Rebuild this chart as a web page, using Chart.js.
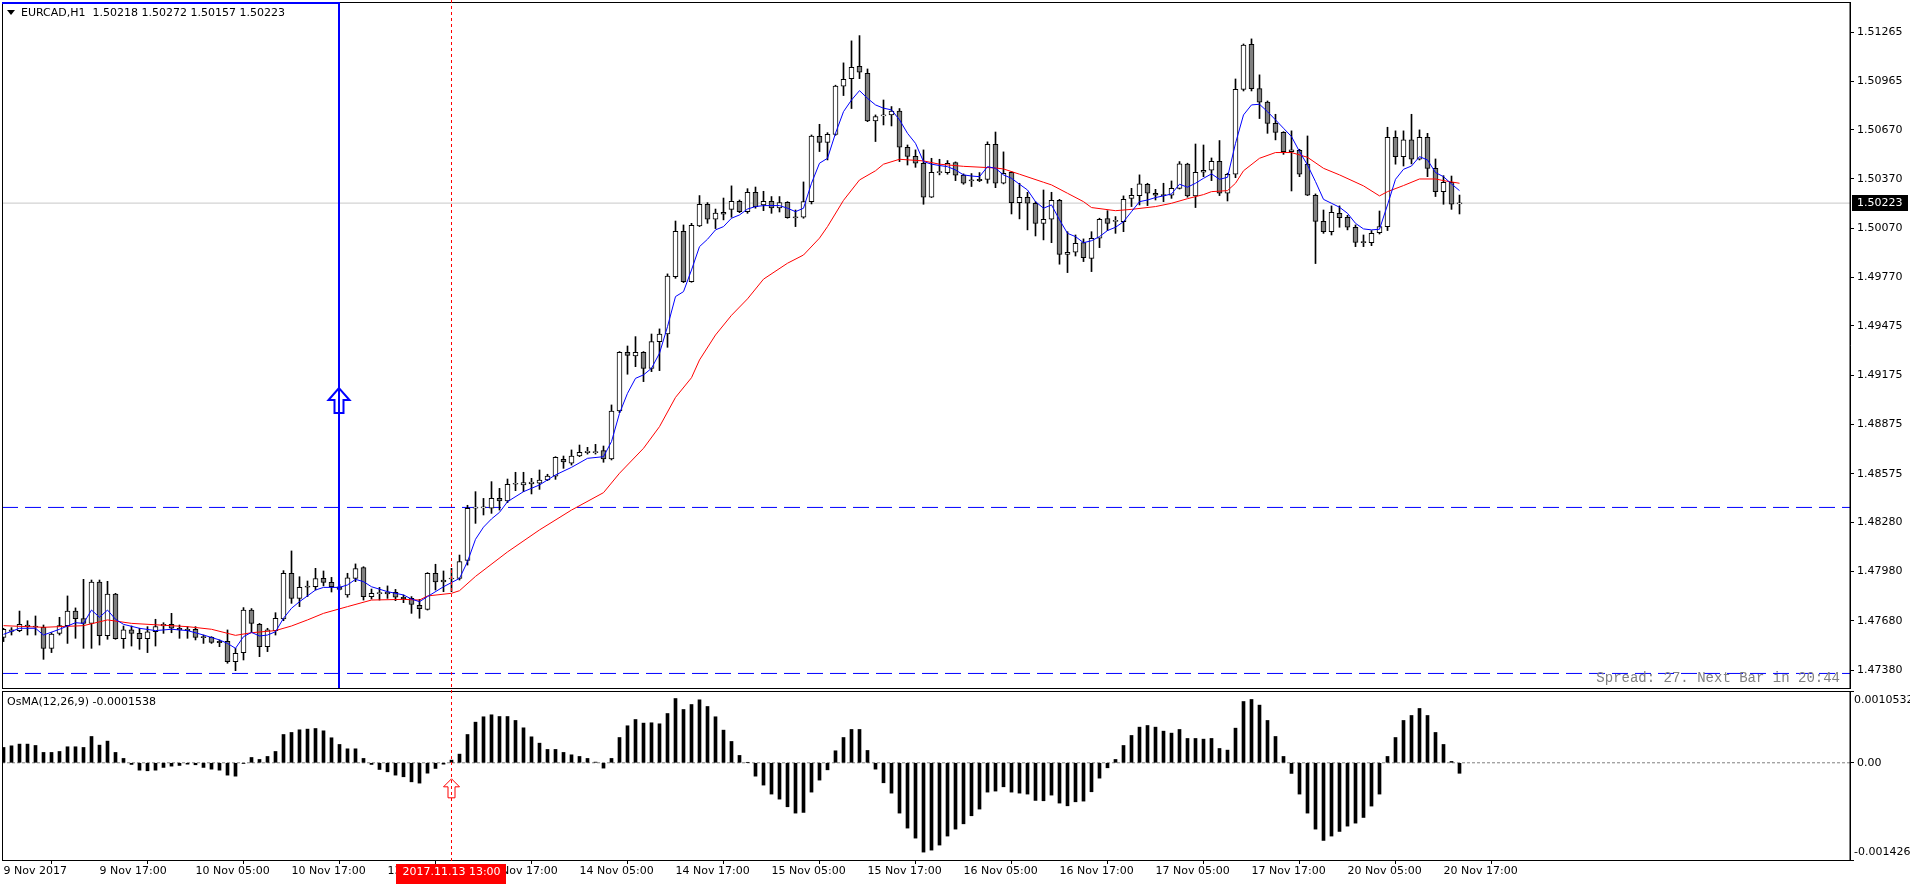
<!DOCTYPE html>
<html>
<head>
<meta charset="utf-8">
<script src="https://cdn.jsdelivr.net/npm/chart.js@4/dist/chart.umd.min.js"></script>
<style>
  html, body { margin: 0; padding: 0; background: #fff; overflow: hidden; }
  canvas { position: absolute; left: 0; }
  #main { top: 0; }
  #osma { top: 690px; }
</style>
</head>
<body>
<canvas id="main" width="1910" height="690"></canvas>
<canvas id="osma" width="1910" height="194"></canvas>
<script>
// EURCAD H1, one entry per bar: 9 Nov 05:00 .. 20 Nov 19:00
const opens = [
  1.47579,1.47624,1.47620,1.47654,1.47646,1.47640,1.47512,1.47603,1.47650,1.47739,
  1.47693,1.47664,1.47916,1.47589,1.47843,1.47571,1.47624,1.47603,1.47571,1.47613,
  1.47648,1.47658,1.47634,1.47628,1.47628,1.47581,1.47579,1.47555,1.47555,1.47431,
  1.47486,1.47745,1.47658,1.47522,1.47620,1.47691,1.47969,1.47816,1.47890,1.47887,
  1.47938,1.47914,1.47887,1.47837,1.47938,1.48003,1.47827,1.47845,1.47843,1.47853,
  1.47823,1.47816,1.47774,1.47749,1.47969,1.47916,1.47934,1.47938,1.48048,1.48366,
  1.48367,1.48365,1.48425,1.48409,1.48511,1.48507,1.48513,1.48517,1.48537,1.48561,
  1.48663,1.48639,1.48683,1.48704,1.48704,1.48716,1.48665,1.48957,1.49315,1.49292,
  1.49315,1.49217,1.49380,1.49426,1.49775,1.50051,1.49745,1.50084,1.50216,1.50125,
  1.50167,1.50185,1.50234,1.50171,1.50289,1.50212,1.50234,1.50194,1.50228,1.50137,
  1.50137,1.50232,1.50630,1.50593,1.50642,1.50935,1.50981,1.51056,1.51014,1.50723,
  1.50754,1.50760,1.50784,1.50563,1.50508,1.50466,1.50259,1.50409,1.50409,1.50470,
  1.50393,1.50362,1.50368,1.50368,1.50581,1.50344,1.50411,1.50226,1.50259,1.50222,
  1.50100,1.50125,1.50240,1.49911,1.49924,1.49982,1.49887,1.50009,1.50129,1.50112,
  1.50110,1.50252,1.50269,1.50338,1.50283,1.50273,1.50271,1.50313,1.50460,1.50267,
  1.50411,1.50423,1.50478,1.50283,1.50399,1.50916,1.51190,1.50920,1.50839,1.50709,
  1.50654,1.50537,1.50545,1.50460,1.50271,1.50112,1.50049,1.50161,1.50137,1.50076,
  1.49986,1.49982,1.50043,1.50080,1.50624,1.50506,1.50608,1.50490,1.50624,1.50435,
  1.50293,1.50350,1.50218
];
const highs = [
  1.47634,1.47638,1.47739,1.47680,1.47709,1.47654,1.47607,1.47701,1.47831,1.47758,
  1.47932,1.47928,1.47928,1.47920,1.47847,1.47648,1.47648,1.47634,1.47644,1.47689,
  1.47668,1.47725,1.47654,1.47644,1.47644,1.47593,1.47583,1.47563,1.47624,1.47512,
  1.47760,1.47754,1.47664,1.47634,1.47729,1.47985,1.48105,1.47948,1.47922,1.47999,
  1.47983,1.47944,1.47900,1.47969,1.48026,1.48009,1.47873,1.47883,1.47892,1.47871,
  1.47837,1.47827,1.47810,1.47973,1.48024,1.47983,1.47999,1.48080,1.48383,1.48466,
  1.48425,1.48527,1.48486,1.48543,1.48584,1.48584,1.48547,1.48598,1.48572,1.48679,
  1.48683,1.48720,1.48750,1.48736,1.48754,1.48744,1.48994,1.49319,1.49353,1.49410,
  1.49319,1.49426,1.49457,1.49792,1.50114,1.50090,1.50100,1.50269,1.50226,1.50187,
  1.50254,1.50328,1.50242,1.50311,1.50321,1.50295,1.50263,1.50263,1.50232,1.50181,
  1.50352,1.50638,1.50703,1.50652,1.50941,1.51077,1.51211,1.51243,1.51040,1.50760,
  1.50851,1.50811,1.50799,1.50577,1.50547,1.50547,1.50496,1.50490,1.50482,1.50474,
  1.50401,1.50403,1.50409,1.50596,1.50656,1.50535,1.50415,1.50344,1.50289,1.50232,
  1.50303,1.50289,1.50246,1.50049,1.50029,1.50005,1.50049,1.50131,1.50177,1.50141,
  1.50267,1.50313,1.50395,1.50344,1.50307,1.50344,1.50358,1.50476,1.50466,1.50583,
  1.50577,1.50498,1.50604,1.50405,1.50979,1.51192,1.51223,1.51004,1.50845,1.50764,
  1.50658,1.50663,1.50551,1.50632,1.50279,1.50181,1.50206,1.50206,1.50149,1.50090,
  1.50029,1.50056,1.50175,1.50685,1.50663,1.50663,1.50764,1.50669,1.50648,1.50492,
  1.50390,1.50388,1.50272
];
const lows = [
  1.47553,1.47593,1.47613,1.47593,1.47593,1.47445,1.47486,1.47593,1.47542,1.47573,
  1.47512,1.47512,1.47532,1.47567,1.47567,1.47512,1.47526,1.47506,1.47486,1.47526,
  1.47603,1.47607,1.47573,1.47573,1.47563,1.47542,1.47542,1.47522,1.47421,1.47376,
  1.47441,1.47609,1.47461,1.47492,1.47593,1.47680,1.47786,1.47766,1.47827,1.47867,
  1.47892,1.47855,1.47867,1.47823,1.47918,1.47806,1.47812,1.47806,1.47816,1.47802,
  1.47790,1.47725,1.47695,1.47745,1.47867,1.47857,1.47857,1.47928,1.48019,1.48273,
  1.48324,1.48334,1.48354,1.48399,1.48472,1.48466,1.48452,1.48480,1.48533,1.48541,
  1.48608,1.48628,1.48679,1.48695,1.48695,1.48645,1.48659,1.48947,1.49181,1.49227,
  1.49136,1.49197,1.49203,1.49345,1.49765,1.49739,1.49741,1.50080,1.50100,1.50068,
  1.50121,1.50137,1.50165,1.50161,1.50192,1.50177,1.50161,1.50169,1.50131,1.50080,
  1.50131,1.50218,1.50537,1.50486,1.50636,1.50878,1.50799,1.50981,1.50719,1.50598,
  1.50699,1.50693,1.50476,1.50455,1.50441,1.50216,1.50257,1.50395,1.50399,1.50360,
  1.50338,1.50324,1.50354,1.50344,1.50317,1.50340,1.50157,1.50127,1.50060,1.50023,
  1.49999,1.49982,1.49851,1.49800,1.49901,1.49867,1.49806,1.49952,1.50056,1.50039,
  1.50049,1.50202,1.50212,1.50208,1.50242,1.50232,1.50252,1.50309,1.50259,1.50196,
  1.50384,1.50360,1.50269,1.50236,1.50378,1.50906,1.50906,1.50738,1.50648,1.50608,
  1.50520,1.50297,1.50384,1.50269,1.49855,1.50039,1.50029,1.50076,1.50060,1.49958,
  1.49958,1.49964,1.50035,1.50056,1.50460,1.50449,1.50462,1.50486,1.50384,1.50263,
  1.50216,1.50185,1.50157
];
const closes = [
  1.47628,1.47615,1.47658,1.47644,1.47642,1.47512,1.47599,1.47650,1.47739,1.47693,
  1.47664,1.47916,1.47589,1.47843,1.47571,1.47624,1.47603,1.47571,1.47613,1.47644,
  1.47658,1.47634,1.47624,1.47620,1.47579,1.47577,1.47548,1.47546,1.47431,1.47482,
  1.47745,1.47664,1.47522,1.47624,1.47695,1.47969,1.47816,1.47883,1.47885,1.47936,
  1.47914,1.47887,1.47871,1.47942,1.47997,1.47827,1.47847,1.47849,1.47855,1.47823,
  1.47814,1.47780,1.47753,1.47969,1.47916,1.47928,1.47938,1.48040,1.48365,1.48370,
  1.48371,1.48425,1.48409,1.48511,1.48515,1.48521,1.48525,1.48537,1.48561,1.48675,
  1.48647,1.48683,1.48706,1.48712,1.48708,1.48665,1.48957,1.49315,1.49296,1.49315,
  1.49217,1.49380,1.49426,1.49779,1.50051,1.49745,1.50088,1.50216,1.50125,1.50163,
  1.50155,1.50234,1.50171,1.50289,1.50202,1.50234,1.50194,1.50226,1.50135,1.50133,
  1.50232,1.50632,1.50593,1.50642,1.50935,1.50977,1.51050,1.51020,1.50723,1.50750,
  1.50758,1.50784,1.50563,1.50508,1.50466,1.50259,1.50411,1.50413,1.50466,1.50393,
  1.50344,1.50358,1.50360,1.50581,1.50344,1.50405,1.50226,1.50259,1.50222,1.50100,
  1.50125,1.50240,1.49911,1.49924,1.49978,1.49891,1.50009,1.50125,1.50100,1.50116,
  1.50246,1.50271,1.50340,1.50283,1.50271,1.50269,1.50313,1.50462,1.50267,1.50411,
  1.50423,1.50478,1.50283,1.50399,1.50916,1.51186,1.50920,1.50837,1.50709,1.50654,
  1.50537,1.50547,1.50399,1.50271,1.50112,1.50049,1.50167,1.50135,1.50076,1.49984,
  1.49982,1.50039,1.50080,1.50624,1.50506,1.50608,1.50490,1.50624,1.50435,1.50293,
  1.50350,1.50216,1.50223
];

// OsMA(12,26,9) histogram, same bars
const osma = [
  0.000225,0.000249,0.000274,0.000274,0.000254,0.000152,0.000152,0.000166,0.000235,0.000235,
  0.000225,0.000386,0.000259,0.000318,0.000152,0.000064,-0.000024,-0.000108,-0.000117,-0.000108,
  -0.000068,-0.000049,-0.000039,-0.000020,-0.000029,-0.000068,-0.000093,-0.000108,-0.000181,-0.000196,
  -0.000010,0.000078,0.000049,0.000093,0.000166,0.000415,0.000445,0.000484,0.000494,0.000503,
  0.000469,0.000367,0.000269,0.000205,0.000205,0.000064,-0.000024,-0.000098,-0.000132,-0.000181,
  -0.000205,-0.000279,-0.000298,-0.000152,-0.000083,-0.000020,0.000039,0.000127,0.000415,0.000596,
  0.000675,0.000704,0.000679,0.000679,0.000621,0.000513,0.000381,0.000288,0.000196,0.000196,
  0.000152,0.000117,0.000093,0.000064,0.000010,-0.000078,0.000064,0.000371,0.000543,0.000635,
  0.000582,0.000587,0.000572,0.000723,0.000943,0.000782,0.000855,0.000924,0.000826,0.000675,
  0.000479,0.000313,0.000108,0.000005,-0.000196,-0.000327,-0.000459,-0.000533,-0.000645,-0.000738,
  -0.000728,-0.000430,-0.000254,-0.000103,0.000176,0.000371,0.000489,0.000489,0.000181,-0.000093,
  -0.000293,-0.000445,-0.000738,-0.000958,-0.001105,-0.001310,-0.001281,-0.001207,-0.001075,-0.000973,
  -0.000895,-0.000777,-0.000679,-0.000430,-0.000415,-0.000352,-0.000430,-0.000445,-0.000459,-0.000552,
  -0.000557,-0.000474,-0.000591,-0.000631,-0.000572,-0.000562,-0.000425,-0.000225,-0.000073,0.000049,
  0.000254,0.000401,0.000523,0.000547,0.000523,0.000464,0.000435,0.000489,0.000357,0.000357,
  0.000347,0.000357,0.000210,0.000186,0.000508,0.000899,0.000929,0.000846,0.000621,0.000386,
  0.000093,-0.000156,-0.000459,-0.000738,-0.000973,-0.001139,-0.001075,-0.001007,-0.000929,-0.000885,
  -0.000802,-0.000635,-0.000459,0.000093,0.000371,0.000621,0.000694,0.000797,0.000694,0.000445,
  0.000269,0.000020,-0.0001538
];

// moving averages as [bar, price]
const fastMA = [
  [0,1.47597],[2,1.47634],[4,1.47634],[5,1.47593],[7,1.47628],[9,1.47668],[10,1.47664],[11,1.47745],
  [12,1.47701],[13,1.47745],[14,1.47689],[15,1.47658],[17,1.47634],[19,1.47620],[21,1.47628],[23,1.47620],
  [25,1.47593],[27,1.47563],[28,1.47542],[29,1.47512],[30,1.47583],[31,1.47609],[32,1.47587],[33,1.47593],
  [34,1.47613],[35,1.47695],[36,1.47756],[37,1.47796],[39,1.47867],[40,1.47883],[42,1.47883],[43,1.47898],
  [44,1.47932],[45,1.47918],[46,1.47887],[48,1.47857],[50,1.47837],[51,1.47812],[52,1.47796],[53,1.47827],
  [55,1.47887],[57,1.47938],[58,1.48040],[59,1.48176],[60,1.48250],[61,1.48300],[62,1.48340],[63,1.48405],
  [65,1.48466],[67,1.48507],[69,1.48568],[71,1.48614],[73,1.48669],[75,1.48679],[76,1.48771],[77,1.48943],
  [78,1.49065],[79,1.49156],[80,1.49177],[81,1.49217],[82,1.49309],[83,1.49471],[84,1.49654],[85,1.49684],
  [86,1.49816],[87,1.49958],[88,1.50003],[89,1.50060],[90,1.50080],[91,1.50131],[92,1.50151],[93,1.50187],
  [94,1.50202],[95,1.50208],[97,1.50208],[98,1.50192],[99,1.50171],[100,1.50192],[101,1.50344],[102,1.50466],
  [103,1.50496],[104,1.50648],[105,1.50780],[106,1.50851],[107,1.50908],[108,1.50861],[109,1.50821],[110,1.50801],
  [111,1.50791],[112,1.50730],[113,1.50648],[114,1.50587],[115,1.50476],[116,1.50460],[117,1.50452],[118,1.50445],
  [119,1.50425],[120,1.50395],[121,1.50388],[122,1.50384],[123,1.50445],[124,1.50435],[125,1.50395],[126,1.50374],
  [127,1.50338],[128,1.50303],[129,1.50232],[130,1.50192],[131,1.50212],[132,1.50121],[133,1.50039],[134,1.50019],
  [135,1.49982],[136,1.49994],[137,1.50019],[138,1.50056],[139,1.50076],[140,1.50110],[141,1.50171],[142,1.50232],
  [143,1.50242],[144,1.50257],[145,1.50267],[146,1.50279],[147,1.50338],[148,1.50320],[149,1.50344],[150,1.50374],
  [151,1.50401],[152,1.50368],[153,1.50380],[154,1.50587],[155,1.50760],[156,1.50821],[157,1.50825],[158,1.50780],
  [159,1.50730],[160,1.50679],[161,1.50628],[162,1.50537],[163,1.50455],[164,1.50354],[165,1.50246],[166,1.50222],
  [167,1.50198],[168,1.50161],[169,1.50100],[170,1.50066],[171,1.50060],[172,1.50064],[173,1.50212],[174,1.50368],
  [175,1.50429],[176,1.50449],[177,1.50506],[178,1.50486],[179,1.50409],[180,1.50384],[181,1.50340],[182,1.50299]
];
const slowMA = [
  [0,1.47650],[5,1.47640],[10,1.47650],[13,1.47685],[16,1.47664],[23,1.47644],[26,1.47628],[29,1.47591],
  [31,1.47607],[34,1.47620],[36,1.47648],[38,1.47685],[40,1.47725],[43,1.47766],[46,1.47806],[50,1.47810],
  [52,1.47806],[53,1.47831],[56,1.47847],[57,1.47863],[59,1.47950],[63,1.48099],[67,1.48233],[71,1.48354],
  [75,1.48460],[77,1.48578],[80,1.48730],[82,1.48862],[84,1.49040],[86,1.49160],[87,1.49268],[89,1.49420],
  [91,1.49540],[93,1.49640],[95,1.49760],[98,1.49857],[100,1.49907],[102,1.50010],[103,1.50080],[105,1.50240],
  [107,1.50364],[109,1.50420],[110,1.50460],[112,1.50490],[115,1.50480],[117,1.50460],[120,1.50447],[124,1.50437],
  [125,1.50431],[127,1.50399],[130,1.50350],[131,1.50334],[133,1.50283],[135,1.50232],[136,1.50196],[139,1.50177],
  [141,1.50185],[144,1.50202],[146,1.50222],[148,1.50250],[150,1.50275],[151,1.50293],[153,1.50299],[154,1.50344],
  [155,1.50420],[157,1.50496],[159,1.50531],[161,1.50531],[163,1.50502],[165,1.50435],[167,1.50395],[170,1.50328],
  [172,1.50267],[173,1.50293],[175,1.50330],[177,1.50370],[179,1.50370],[180,1.50360],[182,1.50344]
];

const priceTicks = [1.51265,1.50965,1.50670,1.50370,1.50070,1.49770,1.49475,1.49175,
                    1.48875,1.48575,1.48280,1.47980,1.47680,1.47380];
const timeTickBars = [0,12,24,36,48,60,72,84,96,108,120,132,144,156,168,180];
const timeTickLabels = ['9 Nov 2017','9 Nov 17:00','10 Nov 05:00','10 Nov 17:00','13 Nov 05:00',
  '13 Nov 17:00','14 Nov 05:00','14 Nov 17:00','15 Nov 05:00','15 Nov 17:00','16 Nov 05:00',
  '16 Nov 17:00','17 Nov 05:00','17 Nov 17:00','20 Nov 05:00','20 Nov 17:00'];

const symbolName = 'EURCAD,H1';
const levelLines = [1.48370, 1.47359];
const markerBar = 42, markerPrice = 1.49097;
const signalBar = 56, signalLabel = '2017.11.13 13:00', signalOsma = -0.000235;
const spreadText = 'Spread: 27. Next Bar in 20:44';

const PRICE_MIN = 1.472704, PRICE_MAX = 1.514477;
const OSMA_MIN = -0.001426, OSMA_MAX = 0.0010532;
const X_MIN = -0.1875, X_MAX = 230.8125;   // 8px per bar, chart shifted left
const last = closes.length - 1;

Chart.defaults.font.family = 'DejaVu Sans';
Chart.defaults.font.size = 11;
Chart.defaults.color = '#000';

const hline = v => [{ x: X_MIN, y: v }, { x: X_MAX, y: v }];
const toPoints = arr => arr.map(([x, y]) => ({ x, y }));

function upArrow(ctx, x, tipY, w, headH, shaftW, totalH, color, lw) {
  ctx.beginPath();
  ctx.moveTo(x, tipY);
  ctx.lineTo(x + w / 2, tipY + headH);
  ctx.lineTo(x + shaftW / 2, tipY + headH);
  ctx.lineTo(x + shaftW / 2, tipY + totalH);
  ctx.lineTo(x - shaftW / 2, tipY + totalH);
  ctx.lineTo(x - shaftW / 2, tipY + headH);
  ctx.lineTo(x - w / 2, tipY + headH);
  ctx.closePath();
  ctx.strokeStyle = color;
  ctx.lineWidth = lw;
  ctx.stroke();
}

const mainOverlay = {
  id: 'mainOverlay',
  afterDraw(chart) {
    const { ctx, chartArea: a, scales: { x, y } } = chart;
    ctx.save();
    ctx.strokeStyle = '#000';
    ctx.lineWidth = 1;
    ctx.strokeRect(a.left + 0.5, a.top + 0.5, a.right - a.left - 0.5, a.bottom - a.top);

    // blue vertical line + arrow
    const mx = Math.floor(x.getPixelForValue(markerBar));
    ctx.strokeStyle = '#0000ff';
    ctx.lineWidth = 2;
    ctx.beginPath();
    ctx.moveTo(mx, a.top);
    ctx.lineTo(mx, a.bottom);
    ctx.moveTo(a.left, a.top + 1);
    ctx.lineTo(mx, a.top + 1);
    ctx.stroke();
    upArrow(ctx, mx, y.getPixelForValue(markerPrice), 21, 12, 9, 25, '#0000ff', 2);

    // red dashed signal line
    const sx = x.getPixelForValue(signalBar);
    ctx.strokeStyle = '#ff0000';
    ctx.lineWidth = 1;
    ctx.setLineDash([3, 3]);
    ctx.beginPath();
    ctx.moveTo(sx, 0);
    ctx.lineTo(sx, chart.height);
    ctx.stroke();
    ctx.setLineDash([]);

    // header
    ctx.fillStyle = '#000';
    ctx.beginPath();
    ctx.moveTo(7, 10); ctx.lineTo(15, 10); ctx.lineTo(11, 15);
    ctx.closePath();
    ctx.fill();
    ctx.font = '11px "DejaVu Sans"';
    ctx.textBaseline = 'middle';
    ctx.textAlign = 'left';
    ctx.fillText(symbolName + '  ' + [opens[last], highs[last], lows[last], closes[last]]
      .map(v => v.toFixed(5)).join(' '), 21, 13);

    ctx.font = '14px "Liberation Mono"';
    ctx.fillStyle = '#808080';
    ctx.textAlign = 'right';
    ctx.fillText(spreadText, 1840, 678);

    // current price tag
    const py = Math.round(y.getPixelForValue(closes[last]));
    ctx.fillStyle = '#000';
    ctx.fillRect(a.right + 2, py - 8, 56, 16);
    ctx.fillStyle = '#fff';
    ctx.textAlign = 'left';
    ctx.font = '11px "DejaVu Sans"';
    ctx.fillText(closes[last].toFixed(5), a.right + 7, py);
    ctx.restore();
  }
};

const osmaOverlay = {
  id: 'osmaOverlay',
  afterDraw(chart) {
    const { ctx, chartArea: a, scales: { x, y } } = chart;
    ctx.save();
    ctx.strokeStyle = '#000';
    ctx.lineWidth = 1;
    ctx.strokeRect(a.left + 0.5, a.top + 0.5, a.right - a.left - 0.5, a.bottom - a.top);

    const sx = x.getPixelForValue(signalBar);
    ctx.strokeStyle = '#ff0000';
    ctx.setLineDash([3, 3]);
    ctx.beginPath();
    ctx.moveTo(sx, 0);
    ctx.lineTo(sx, chart.height);
    ctx.stroke();
    ctx.setLineDash([]);
    upArrow(ctx, sx, y.getPixelForValue(signalOsma), 16, 8, 7, 19, '#ff0000', 1);

    ctx.fillStyle = '#000';
    ctx.font = '11px "DejaVu Sans"';
    ctx.textBaseline = 'middle';
    ctx.textAlign = 'left';
    ctx.fillText('OsMA(12,26,9) ' + osma[last].toFixed(7), 7, 12);
    ctx.fillText(String(OSMA_MAX), a.right + 4, a.top + 9);
    ctx.fillText(String(OSMA_MIN), a.right + 4, a.bottom - 8);

    // time tag under the signal line
    const tw = ctx.measureText(signalLabel).width + 12;
    ctx.fillStyle = '#ff0000';
    ctx.fillRect(Math.round(sx - tw / 2), 174, Math.round(tw), 20);
    ctx.fillStyle = '#fff';
    ctx.textAlign = 'center';
    ctx.fillText(signalLabel, sx, 182);
    ctx.restore();
  }
};

const noPad = s => { s.paddingTop = 0; s.paddingBottom = 0; s.paddingLeft = 0; s.paddingRight = 0; };

new Chart(document.getElementById('main'), {
  type: 'bar',
  data: {
    datasets: [
      { type: 'line', data: toPoints(fastMA), borderColor: '#0000ff', borderWidth: 1, pointRadius: 0, order: 0 },
      { type: 'line', data: toPoints(slowMA), borderColor: '#ff0000', borderWidth: 1, pointRadius: 0, order: 0 },
      {
        type: 'bar',
        data: opens.map((o, i) => ({ x: i, y: [o, closes[i]] })),
        backgroundColor: opens.map((o, i) => closes[i] >= o ? '#ffffff' : '#808080'),
        borderColor: '#000', borderWidth: 1, borderSkipped: false,
        barThickness: 5, minBarLength: 1, grouped: false, order: 1
      },
      {
        type: 'bar',
        data: highs.map((h, i) => ({ x: i, y: [lows[i], h] })),
        backgroundColor: '#000', borderWidth: 0, barThickness: 1, grouped: false, order: 2
      },
      { type: 'line', data: hline(closes[last]), borderColor: '#c8c8c8', borderWidth: 1, pointRadius: 0, order: 3 },
      ...levelLines.map(v => ({
        type: 'line', data: hline(v), borderColor: '#0000ff', borderWidth: 1,
        borderDash: [16, 7], pointRadius: 0, order: 3
      }))
    ]
  },
  options: {
    responsive: false,
    animation: false,
    devicePixelRatio: 1,
    layout: { padding: { left: 2, top: 2, right: 0, bottom: 2 } },
    plugins: { legend: { display: false }, tooltip: { enabled: false } },
    scales: {
      x: { type: 'linear', min: X_MIN, max: X_MAX, offset: false, display: false },
      y: {
        type: 'linear', position: 'right', min: PRICE_MIN, max: PRICE_MAX, bounds: 'data',
        afterBuildTicks: s => { s.ticks = priceTicks.map(v => ({ value: v })); },
        afterFit: s => { s.width = 60; noPad(s); },
        grid: { drawOnChartArea: false, tickLength: 4, color: '#000' },
        border: { display: true, color: '#000' },
        ticks: { padding: 3, color: '#000', autoSkip: false, callback: v => v.toFixed(5) }
      }
    }
  },
  plugins: [mainOverlay]
});

new Chart(document.getElementById('osma'), {
  type: 'bar',
  data: {
    datasets: [
      {
        type: 'bar', data: osma.map((v, i) => ({ x: i, y: v })),
        backgroundColor: '#000', borderWidth: 0, barThickness: 3, grouped: false, order: 1
      },
      { type: 'line', data: hline(0), borderColor: '#808080', borderWidth: 1, borderDash: [3, 2], pointRadius: 0, order: 2 }
    ]
  },
  options: {
    responsive: false,
    animation: false,
    devicePixelRatio: 1,
    layout: { padding: { left: 2, top: 1, right: 0, bottom: 0 } },
    plugins: { legend: { display: false }, tooltip: { enabled: false } },
    scales: {
      x: {
        type: 'linear', min: X_MIN, max: X_MAX, offset: false, bounds: 'data',
        afterBuildTicks: s => { s.ticks = timeTickBars.map(v => ({ value: v })); },
        afterFit: s => { s.height = 24; noPad(s); },
        grid: { drawOnChartArea: false, tickLength: 4, color: '#000' },
        border: { display: true, color: '#000' },
        ticks: {
          align: 'start', maxRotation: 0, autoSkip: false, padding: 1, color: '#000',
          callback: v => timeTickLabels[timeTickBars.indexOf(v)] ?? ''
        }
      },
      y: {
        type: 'linear', position: 'right', min: OSMA_MIN, max: OSMA_MAX, bounds: 'data',
        afterBuildTicks: s => { s.ticks = [OSMA_MIN, 0, OSMA_MAX].map(v => ({ value: v })); },
        afterFit: s => { s.width = 60; noPad(s); },
        grid: { drawOnChartArea: false, tickLength: 4, color: '#000' },
        border: { display: true, color: '#000' },
        ticks: { padding: 3, color: '#000', autoSkip: false, callback: v => v === 0 ? '0.00' : '' }
      }
    }
  },
  plugins: [osmaOverlay]
});
</script>
</body>
</html>
